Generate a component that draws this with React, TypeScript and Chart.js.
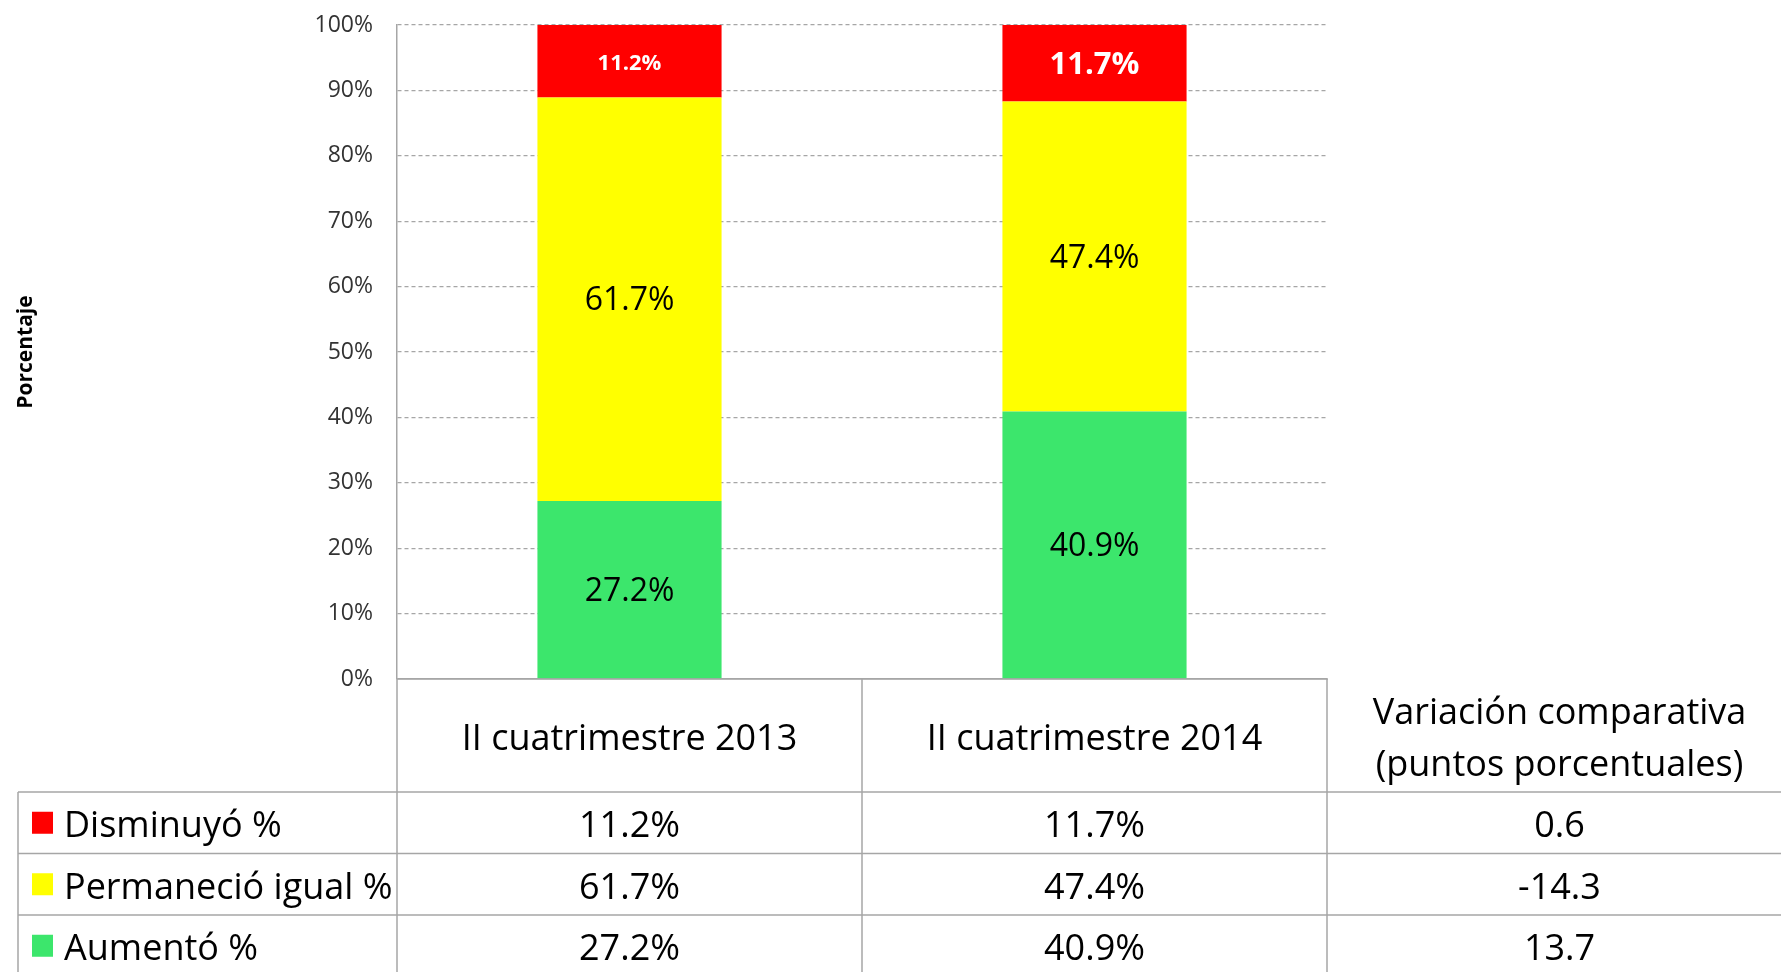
import React, { useEffect, useRef } from "react";
import { Chart, registerables } from "chart.js";

Chart.register(...registerables);

const categories = ["II cuatrimestre 2013", "II cuatrimestre 2014"];
const variationHeader = ["Variación comparativa", "(puntos porcentuales)"];
const seriesNames = ["Aumentó %", "Permaneció igual %", "Disminuyó %"];
const aumento = [27.2, 40.9];
const permanecio = [61.7, 47.4];
const disminuyo = [11.2, 11.7];
const variacion = [13.7, -14.3, 0.6]; // same order as seriesNames
const seriesColors = ["#3CE66C", "#FFFF00", "#FF0000"];
const yTicks = [0, 10, 20, 30, 40, 50, 60, 70, 80, 90, 100];

const FONT = "'Open Sans', 'Noto Sans', sans-serif";
const LINE = "#A6A6A6";

const barLabels = {
  id: "barLabels",
  afterDatasetsDraw(chart: any) {
    const ctx = chart.ctx;
    ctx.save();
    ctx.textAlign = "center";
    ctx.textBaseline = "middle";
    chart.data.datasets.forEach((ds: any, di: number) => {
      const meta = chart.getDatasetMeta(di);
      meta.data.forEach((el: any, i: number) => {
        const { x, y, base } = el.getProps(["x", "y", "base"], true);
        const top = Math.max(y, chart.chartArea.top);
        const cy = (top + base) / 2;
        if (di === 2) {
          ctx.fillStyle = "#FFFFFF";
          ctx.font = `bold ${i === 0 ? 22 : 31}px ${FONT}`;
        } else {
          ctx.fillStyle = "#000000";
          ctx.font = `32px ${FONT}`;
        }
        ctx.fillText(ds.data[i].toFixed(1) + "%", x, cy + 2);
      });
    });
    ctx.restore();
  },
};

const dataTable = {
  id: "dataTable",
  afterDraw(chart: any) {
    const ctx = chart.ctx;
    const xs = chart.scales.x;
    const area = chart.chartArea;
    const c0 = xs.getPixelForValue(0);
    const c1 = xs.getPixelForValue(1);
    const colW = c1 - c0;
    const centers = [c0, c1, c1 + colW];
    const bounds = [area.left, c0 + colW / 2, c1 + colW / 2];
    const headTop = area.bottom;
    const headBottom = headTop + 113;
    const rowH = 61.5;
    const tableLeft = 18;
    const W = chart.width;
    const H = chart.height;

    ctx.save();
    ctx.strokeStyle = LINE;
    ctx.lineWidth = 1.5;
    ctx.beginPath();
    ctx.moveTo(area.left, headTop);
    ctx.lineTo(bounds[2] + 1, headTop);
    bounds.forEach((bx) => {
      ctx.moveTo(bx, headTop);
      ctx.lineTo(bx, H);
    });
    ctx.moveTo(tableLeft, headBottom);
    ctx.lineTo(tableLeft, H);
    for (let r = 0; r < 4; r++) {
      const yy = headBottom + r * rowH;
      ctx.moveTo(tableLeft, yy);
      ctx.lineTo(W, yy);
    }
    ctx.stroke();

    const dy = 4;
    ctx.fillStyle = "#000000";
    ctx.textBaseline = "middle";
    ctx.textAlign = "center";
    ctx.font = `36px ${FONT}`;
    const headMid = (headTop + headBottom) / 2 + dy;
    categories.forEach((c, i) => ctx.fillText(c, centers[i], headMid));
    ctx.fillText(variationHeader[0], centers[2], headMid - 26);
    ctx.fillText(variationHeader[1], centers[2], headMid + 26);

    const rowOrder = [2, 1, 0];
    const seriesData = [aumento, permanecio, disminuyo];
    rowOrder.forEach((si, r) => {
      const cy = headBottom + r * rowH + rowH / 2;
      ctx.fillStyle = seriesColors[si];
      ctx.fillRect(32, cy - 11, 21, 22);
      ctx.fillStyle = "#000000";
      ctx.textAlign = "left";
      const ty = cy + dy;
      ctx.fillText(seriesNames[si], 64, ty);
      ctx.textAlign = "center";
      ctx.fillText(seriesData[si][0].toFixed(1) + "%", centers[0], ty);
      ctx.fillText(seriesData[si][1].toFixed(1) + "%", centers[1], ty);
      ctx.fillText(variacion[si].toFixed(1), centers[2], ty);
    });
    ctx.restore();
  },
};

export default function App() {
  const ref = useRef<HTMLCanvasElement | null>(null);

  useEffect(() => {
    document.body.style.margin = "0";
    document.body.style.overflow = "hidden";
    const canvas = ref.current;
    if (!canvas) return;
    const datasets = [aumento, permanecio, disminuyo].map((d, i) => ({
      label: seriesNames[i],
      data: d,
      backgroundColor: seriesColors[i],
      borderWidth: 0,
      barPercentage: 0.396,
      categoryPercentage: 1,
    }));
    const chart = new Chart(canvas, {
      type: "bar",
      data: { labels: categories, datasets },
      options: {
        responsive: false,
        animation: false,
        layout: { padding: { top: 25, right: 454, bottom: 293, left: 0 } },
        plugins: {
          legend: { display: false },
          tooltip: { enabled: false },
        },
        scales: {
          x: { stacked: true, display: false },
          y: {
            stacked: true,
            min: 0,
            max: 100,
            afterFit: (s: any) => {
              s.width = 397;
              s.paddingTop = 0;
              s.paddingBottom = 0;
            },
            afterBuildTicks: (s: any) => {
              s.ticks = yTicks.map((v) => ({ value: v }));
            },
            ticks: {
              callback: (v: any) => v + "%",
              font: { family: FONT, size: 23 },
              color: "#333333",
              padding: 24,
            },
            grid: {
              color: LINE,
              lineWidth: 1.2,
              drawTicks: false,
            },
            border: {
              display: true,
              color: LINE,
              width: 1.5,
              dash: (c: any) => (c.tick && c.tick.value === 0 ? [] : [4, 3]),
            },
            title: {
              display: true,
              text: "Porcentaje",
              font: { family: FONT, size: 21, weight: "bold" },
              color: "#000000",
              padding: { top: 13, bottom: 0 },
            },
          },
        },
      },
      plugins: [barLabels, dataTable],
    } as any);
    return () => chart.destroy();
  }, []);

  return (
    <div style={{ width: 1781, height: 972, position: "relative" }}>
      <canvas ref={ref} width={1781} height={972} style={{ display: "block" }} />
    </div>
  );
}
